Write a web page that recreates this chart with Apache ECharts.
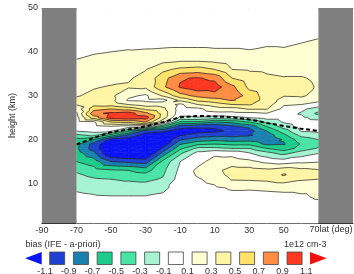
<!DOCTYPE html>
<html>
<head>
<meta charset="utf-8">
<script src="https://cdn.jsdelivr.net/npm/echarts@6/dist/echarts.min.js"></script>
<style>
  html, body { margin: 0; padding: 0; background: #fff; }
  #chart { width: 354px; height: 274px; }
</style>
</head>
<body>
<div id="chart"></div>
<script>
  // grid of the bias field: columns = latitude, rows = height
  const lats = [-70, -60, -50, -40, -30, -20, -10, 0, 10, 20, 30, 40, 50, 60, 70];
  const heights = [1, 4, 7, 9, 11, 12, 13, 15, 17, 18, 19, 20, 21, 22, 23, 24, 25, 26, 27, 28, 29, 30, 32, 34, 36, 38, 40, 42, 44, 47, 50];
  // one row per height (1e12 cm-3), lat -70 .. 70
  const bias = [
    [0, 0, 0, 0, 0, 0, 0, 0, 0, 0, 0, 0, 0, 0, 0],                                              // 1
    [0, -0.01, -0.01, -0.01, -0.01, 0, 0, 0, 0, 0.01, 0.01, 0.01, 0.01, 0.02, 0.03],            // 4
    [-0.06, -0.08, -0.09, -0.09, -0.09, -0.06, 0, 0, 0.02, 0.05, 0.04, 0.05, 0.06, 0.08, 0.12], // 7
    [-0.13, -0.16, -0.2, -0.2, -0.2, -0.15, 0, 0.03, 0.07, 0.12, 0.12, 0.13, 0.14, 0.14, 0.14], // 9
    [-0.22, -0.28, -0.3, -0.33, -0.35, -0.28, -0.02, 0.08, 0.16, 0.32, 0.33, 0.35, 0.42, 0.33, 0.3], // 11
    [-0.27, -0.35, -0.4, -0.42, -0.45, -0.32, -0.03, 0.12, 0.22, 0.36, 0.36, 0.38, 0.52, 0.38, 0.35], // 12
    [-0.33, -0.42, -0.47, -0.5, -0.58, -0.35, -0.05, 0.14, 0.24, 0.38, 0.38, 0.35, 0.42, 0.36, 0.32], // 13
    [-0.5, -0.6, -0.9, -0.95, -1.0, -0.45, -0.1, 0.03, 0.18, 0.2, 0.15, 0.05, 0.0, 0.05, 0.08],      // 15
    [-0.62, -0.85, -1.35, -1.4, -1.4, -0.85, -0.35, -0.05, 0.05, 0.02, -0.1, -0.25, -0.38, -0.22, -0.12], // 17
    [-0.66, -1.0, -1.35, -1.42, -1.45, -1.05, -0.55, -0.25, -0.25, -0.3, -0.3, -0.5, -0.62, -0.42, -0.28], // 18
    [-0.64, -0.98, -1.3, -1.38, -1.45, -1.25, -0.72, -0.55, -0.5, -0.55, -0.55, -0.75, -0.72, -0.48, -0.35], // 19
    [-0.58, -0.7, -1.15, -1.2, -1.4, -1.3, -0.92, -0.8, -0.75, -0.8, -0.78, -0.85, -0.68, -0.4, -0.3],  // 20
    [-0.35, -0.25, -0.6, -0.95, -1.2, -1.25, -1.12, -1.0, -0.95, -0.95, -0.92, -0.82, -0.55, -0.25, -0.18], // 21
    [-0.08, -0.02, -0.05, -0.45, -1.0, -1.05, -1.2, -1.18, -1.15, -1.05, -0.98, -0.7, -0.4, -0.08, -0.05], // 22
    [-0.02, 0.02, 0.08, 0.0, 0.0, -0.5, -1.0, -1.05, -1.05, -0.95, -0.85, -0.5, -0.2, -0.02, 0.02],  // 23
    [0.0, 0.05, 0.5, 0.55, 0.7, 0.15, -0.55, -0.55, -0.7, -0.65, -0.5, -0.25, -0.08, 0.0, -0.02],    // 24
    [0.02, 0.6, 1.0, 1.05, 1.0, 0.4, -0.15, -0.12, -0.2, -0.15, -0.1, -0.02, -0.02, -0.05, -0.18],   // 25
    [0.07, 0.84, 0.95, 1.0, 0.75, 0.42, -0.02, 0.0, 0.05, 0.04, 0.05, 0.1, 0.0, -0.12, -0.35],       // 26
    [0.18, 0.62, 0.7, 0.62, 0.45, 0.35, 0.0, 0.05, 0.2, 0.22, 0.32, 0.32, 0.04, -0.05, -0.2],        // 27
    [0.31, 0.45, 0.42, 0.3, 0.2, 0.22, 0.05, 0.3, 0.4, 0.5, 0.52, 0.4, 0.12, 0.1, 0.02],             // 28
    [0.33, 0.37, 0.36, 0.07, 0.05, 0.02, 0.35, 0.55, 0.62, 0.72, 0.62, 0.42, 0.22, 0.25, 0.15],      // 29
    [0.29, 0.33, 0.34, 0.15, 0.06, 0.32, 0.62, 0.75, 0.82, 0.86, 0.6, 0.42, 0.31, 0.32, 0.25],       // 30
    [0.24, 0.29, 0.31, 0.32, 0.34, 0.66, 0.92, 1.02, 1.0, 0.75, 0.45, 0.38, 0.33, 0.33, 0.29],       // 32
    [0.2, 0.25, 0.26, 0.28, 0.36, 0.62, 0.88, 0.92, 0.85, 0.5, 0.38, 0.33, 0.31, 0.31, 0.28],        // 34
    [0.16, 0.2, 0.21, 0.23, 0.29, 0.45, 0.55, 0.58, 0.5, 0.3, 0.28, 0.27, 0.25, 0.26, 0.24],         // 36
    [0.11, 0.15, 0.16, 0.17, 0.2, 0.25, 0.28, 0.28, 0.25, 0.2, 0.2, 0.2, 0.18, 0.2, 0.2],            // 38
    [0.05, 0.08, 0.1, 0.11, 0.12, 0.13, 0.13, 0.13, 0.12, 0.12, 0.11, 0.13, 0.12, 0.14, 0.15],       // 40
    [0.02, 0.04, 0.05, 0.07, 0.06, 0.06, 0.07, 0.07, 0.07, 0.07, 0.07, 0.08, 0.08, 0.1, 0.11],       // 42
    [0, 0.01, 0.01, 0.02, 0.02, 0.02, 0.03, 0.03, 0.03, 0.03, 0.03, 0.03, 0.04, 0.06, 0.09],         // 44
    [0, 0, 0, 0, 0, 0, 0.01, 0.01, 0.01, 0.01, 0.01, 0.01, 0.02, 0.02, 0.05],                        // 47
    [0, 0, 0, 0, 0, 0, 0, 0, 0, 0, 0, 0, 0, 0, 0.01]                                                 // 50
  ];

  // dashed line (tropopause)
  const tropoLat = [-70, -60, -50, -40, -30, -20, -10, 0, 10, 20, 30, 40, 50, 60, 70];
  const tropoHeight = [18.9, 20.4, 21.7, 22.3, 23.0, 24.0, 25.1, 25.4, 25.3, 25.1, 24.6, 23.8, 23.1, 22.5, 22.0];

  // no-data latitude bands
  const maskLat = [[-90, -70], [70, 90]];

  const levels = [-1.1, -0.9, -0.7, -0.5, -0.3, -0.1, 0.1, 0.3, 0.5, 0.7, 0.9, 1.1];
  const levelLabels = ['-1.1', '-0.9', '-0.7', '-0.5', '-0.3', '-0.1', '0.1', '0.3', '0.5', '0.7', '0.9', '1.1'];
  const bandColors = ['#0a14f2', '#1f3fd0', '#1a80b0', '#1dcc8c', '#48e4a6', '#a6f3d3', '#ffffff',
                      '#ffffd4', '#fff5a5', '#ffe26c', '#ff8d44', '#ff3822', '#f01010'];

  const xLabelTicks = [-90, -70, -50, -30, -10, 10, 30, 50];
  const xTicks = [-70, -50, -30, -10, 10, 30, 50, 70];
  const yTicks = [10, 20, 30, 40, 50];

  const FONT = '"Liberation Sans", Arial, sans-serif';
  const TXT = '#333';

  const cells = [];
  for (let j = 0; j < heights.length - 1; j++) {
    for (let i = 0; i < lats.length - 1; i++) {
      cells.push([lats[i], lats[i + 1], heights[j], heights[j + 1],
        bias[j][i], bias[j][i + 1], bias[j + 1][i + 1], bias[j + 1][i]]);
    }
  }

  function cellTriangles(api) {
    const x0 = api.value(0), x1 = api.value(1), y0 = api.value(2), y1 = api.value(3);
    const a = api.coord([x0, y0]), b = api.coord([x1, y0]), c = api.coord([x1, y1]), d = api.coord([x0, y1]);
    const A = [a[0], a[1], api.value(4)];
    const B = [b[0], b[1], api.value(5)];
    const C = [c[0], c[1], api.value(6)];
    const D = [d[0], d[1], api.value(7)];
    return [[A, B, C], [A, C, D]];
  }

  // keep the part of a polygon above (or below) a level
  function clip(poly, level, above) {
    const out = [];
    for (let k = 0; k < poly.length; k++) {
      const p = poly[k], q = poly[(k + 1) % poly.length];
      const pin = above ? p[2] >= level : p[2] <= level;
      const qin = above ? q[2] >= level : q[2] <= level;
      if (pin) out.push(p);
      if (pin !== qin) {
        const t = (level - p[2]) / (q[2] - p[2]);
        out.push([p[0] + t * (q[0] - p[0]), p[1] + t * (q[1] - p[1]), level]);
      }
    }
    return out;
  }

  function renderFill(params, api) {
    const children = [];
    cellTriangles(api).forEach(tri => {
      for (let b = 0; b < bandColors.length; b++) {
        let poly = tri;
        if (b > 0) poly = clip(poly, levels[b - 1], true);
        if (b < levels.length && poly.length) poly = clip(poly, levels[b], false);
        if (poly.length < 3) continue;
        children.push({
          type: 'polygon',
          silent: true,
          shape: { points: poly.map(p => [p[0], p[1]]) },
          style: { fill: bandColors[b], stroke: bandColors[b], lineWidth: 0.6 }
        });
      }
    });
    return { type: 'group', children: children };
  }

  function renderLines(params, api) {
    const children = [];
    cellTriangles(api).forEach(tri => {
      levels.forEach(L => {
        const pts = [];
        for (let k = 0; k < 3; k++) {
          const p = tri[k], q = tri[(k + 1) % 3];
          if ((p[2] >= L) !== (q[2] >= L)) {
            const t = (L - p[2]) / (q[2] - p[2]);
            pts.push([p[0] + t * (q[0] - p[0]), p[1] + t * (q[1] - p[1])]);
          }
        }
        if (pts.length === 2) {
          children.push({
            type: 'line',
            silent: true,
            shape: { x1: pts[0][0], y1: pts[0][1], x2: pts[1][0], y2: pts[1][1] },
            style: { stroke: '#1e1e1e', lineWidth: 0.7 }
          });
        }
      });
    });
    return { type: 'group', children: children };
  }

  function renderMask(params, api) {
    const p0 = api.coord([api.value(0), 50]);
    const p1 = api.coord([api.value(1), 1]);
    return {
      type: 'rect',
      shape: { x: p0[0], y: p0[1], width: p1[0] - p0[0], height: p1[1] - p0[1] },
      style: { fill: '#7f7f7f' }
    };
  }

  // colorbar under the plot
  const cbX0 = 45, cbStep = 23.74, cbTop = 252, cbH = 12.5, cbW = 15;
  const colorbar = [];
  colorbar.push({
    type: 'polygon',
    shape: { points: [[25, cbTop + cbH / 2], [41.7, cbTop], [41.7, cbTop + cbH]] },
    style: { fill: bandColors[0] }
  });
  for (let k = 1; k < bandColors.length - 1; k++) {
    const cx = cbX0 + (k - 0.5) * cbStep + 0.3;
    colorbar.push({
      type: 'rect',
      shape: { x: cx - cbW / 2, y: cbTop, width: cbW, height: cbH },
      style: { fill: bandColors[k], stroke: '#444', lineWidth: 0.8 }
    });
  }
  colorbar.push({
    type: 'polygon',
    shape: { points: [[310, cbTop], [326.7, cbTop + cbH / 2], [310, cbTop + cbH]] },
    style: { fill: bandColors[bandColors.length - 1] }
  });
  levelLabels.forEach((t, k) => {
    colorbar.push({
      type: 'text', x: cbX0 + k * cbStep, y: 267.5,
      style: { text: t, fontSize: 9, fontFamily: FONT, fill: TXT, align: 'center', verticalAlign: 'top' }
    });
  });
  colorbar.push({
    type: 'text', x: 25.5, y: 245,
    style: { text: 'bias (IFE - a-priori)', fontSize: 9, fontFamily: FONT, fill: TXT, align: 'left', verticalAlign: 'middle' }
  });
  colorbar.push({
    type: 'text', x: 326.5, y: 245,
    style: { text: '1e12 cm-3', fontSize: 9, fontFamily: FONT, fill: TXT, align: 'right', verticalAlign: 'middle' }
  });
  colorbar.push({
    type: 'text', x: 352.5, y: 229.5,
    style: { text: '70lat (deg)', fontSize: 9, fontFamily: FONT, fill: TXT, align: 'right', verticalAlign: 'middle' }
  });

  const chart = echarts.init(document.getElementById('chart'));
  chart.setOption({
    animation: false,
    backgroundColor: '#fff',
    textStyle: { fontFamily: FONT },
    grid: { left: 31, right: 1, top: 8, bottom: 51 },
    xAxis: [{
      type: 'value', min: -90, max: 90, position: 'bottom',
      splitLine: { show: false },
      axisLine: { show: true, onZero: false, lineStyle: { color: '#333', width: 1 } },
      axisTick: { show: true, inside: true, length: 3, customValues: xTicks, lineStyle: { color: '#333' } },
      axisLabel: { customValues: xLabelTicks, fontSize: 9, color: TXT, margin: 3 }
    }, {
      type: 'value', min: -90, max: 90, position: 'top',
      splitLine: { show: false },
      axisLine: { show: true, onZero: false, lineStyle: { color: '#888', width: 0.8 } },
      axisTick: { show: true, inside: true, length: 3, customValues: xTicks, lineStyle: { color: '#555' } },
      axisLabel: { show: false }
    }],
    yAxis: {
      type: 'value', min: 1, max: 50,
      name: 'height (km)', nameLocation: 'middle', nameGap: 23, nameRotate: 90,
      nameTextStyle: { fontSize: 9, color: TXT },
      splitLine: { show: false },
      axisLine: { show: false },
      axisTick: { show: false },
      axisLabel: { customValues: yTicks, fontSize: 9, color: TXT, margin: 4 }
    },
    series: [{
      type: 'custom', name: 'fill', z: 2,
      renderItem: renderFill,
      encode: { x: [0, 1], y: [2, 3] },
      data: cells
    }, {
      type: 'custom', name: 'contour', z: 3,
      renderItem: renderLines,
      encode: { x: [0, 1], y: [2, 3] },
      data: cells
    }, {
      type: 'line', name: 'tropopause', z: 4,
      symbol: 'none',
      lineStyle: { color: '#000', width: 2, type: [4, 2.7] },
      data: tropoLat.map((x, i) => [x, tropoHeight[i]])
    }, {
      type: 'custom', name: 'mask', z: 5,
      renderItem: renderMask,
      encode: { x: [0, 1] },
      data: maskLat
    }],
    graphic: colorbar
  });
</script>
</body>
</html>
